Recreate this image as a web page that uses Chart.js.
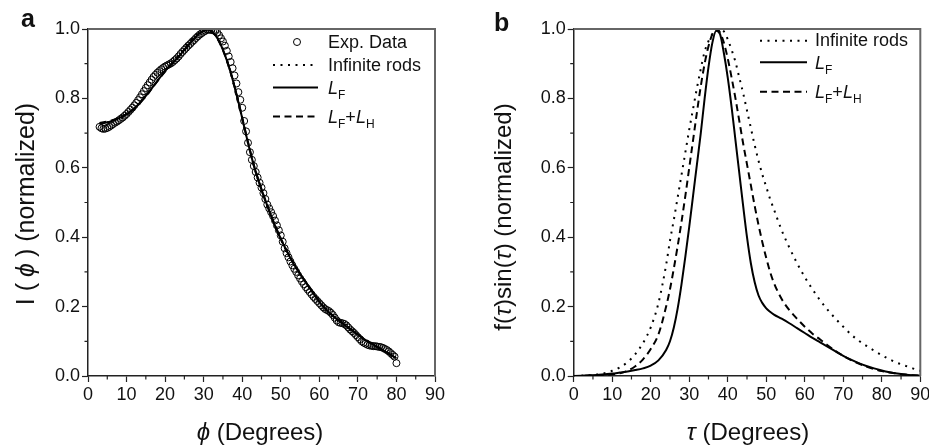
<!DOCTYPE html>
<html><head><meta charset="utf-8">
<script src="https://cdn.jsdelivr.net/npm/chart.js@4.4.0/dist/chart.umd.min.js"></script>
<style>
html,body{margin:0;padding:0;background:#fff;}
#wrap{position:relative;width:929px;height:445px;overflow:hidden;font-family:"Liberation Sans",Arial,sans-serif;color:#111;}
canvas{position:absolute;top:0;}
.t{position:absolute;white-space:nowrap;line-height:1;}
.lg{font-size:18px;}
.ax{font-size:24px;}
.sb{font-size:12px;position:relative;top:5px;font-style:normal;}
.pl{font-weight:bold;font-size:25px;}
</style></head>
<body><div id="wrap">
<canvas id="ca" width="460" height="445" style="left:0"></canvas>
<canvas id="cb" width="469" height="445" style="left:460px"></canvas>
<div class="t pl" style="left:21px;top:6px;">a</div>
<div class="t pl" style="left:494px;top:10px;">b</div>
<div class="t lg" style="left:328px;top:33px;">Exp. Data</div>
<div class="t lg" style="left:328px;top:56px;">Infinite rods</div>
<div class="t lg" style="left:328px;top:79px;"><i>L</i><span class="sb">F</span></div>
<div class="t lg" style="left:328px;top:108px;"><i>L</i><span class="sb">F</span>+<i>L</i><span class="sb">H</span></div>
<div class="t lg" style="left:815px;top:31px;">Infinite rods</div>
<div class="t lg" style="left:815px;top:54px;"><i>L</i><span class="sb">F</span></div>
<div class="t lg" style="left:815px;top:83px;"><i>L</i><span class="sb">F</span>+<i>L</i><span class="sb">H</span></div>
<div class="t ax" style="font-size:25px;left:25px;top:204px;transform:translate(-50%,-50%) rotate(-90deg);">I (<i style="margin:0 6px">ϕ</i>) (normalized)</div>
<div class="t ax" style="left:503px;top:217px;transform:translate(-50%,-50%) rotate(-90deg);">f(<i>τ</i>)sin(<i>τ</i>) (normalized)</div>
<div class="t ax" style="left:260px;top:432px;transform:translate(-50%,-50%);"><i>ϕ</i> (Degrees)</div>
<div class="t ax" style="left:748px;top:432px;transform:translate(-50%,-50%);"><i>τ</i> (Degrees)</div>
</div>
<script>
// ---- Panel a: experimental data ----
const phiExp = [3,3.5,4,4.5,5,5.5,6,6.5,7,7.5,8,8.5,9,9.5,10,10.5,11,11.5,12,12.5,13,13.5,14,14.5,15,15.5,16,16.5,17,17.5,18,18.5,19,19.5,20,20.5,21,21.5,22,22.5,23,23.5,24,24.5,25,25.5,26,26.5,27,27.5,28,28.5,29,29.5,30,30.5,31,31.5,32,32.5,33,33.5,34,34.5,35,35.5,36,36.5,37,37.5,38,38.5,39,39.5,40,40.5,41,41.5,42,42.5,43,43.5,44,44.5,45,45.5,46,46.5,47,47.5,48,48.5,49,49.5,50,50.5,51,51.5,52,52.5,53,53.5,54,54.5,55,55.5,56,56.5,57,57.5,58,58.5,59,59.5,60,60.5,61,61.5,62,62.5,63,63.5,64,64.5,65,65.5,66,66.5,67,67.5,68,68.5,69,69.5,70,70.5,71,71.5,72,72.5,73,73.5,74,74.5,75,75.5,76,76.5,77,77.5,78,78.5,79,79.5,80];
const iExp = [.718,.714,.712,.713,.715,.718,.722,.726,.73,.733,.737,.741,.745,.75,.755,.761,.767,.773,.78,.787,.795,.803,.812,.821,.83,.838,.846,.854,.862,.868,.874,.879,.884,.888,.892,.895,.898,.901,.905,.91,.915,.921,.928,.934,.94,.946,.952,.957,.963,.968,.974,.979,.984,.988,.992,.995,.998,.998,.997,.996,.994,.99,.982,.973,.964,.952,.937,.921,.905,.887,.866,.843,.818,.796,.773,.735,.705,.672,.645,.623,.605,.588,.572,.557,.543,.527,.51,.494,.483,.472,.461,.448,.434,.42,.405,.387,.368,.354,.342,.33,.319,.309,.3,.29,.281,.272,.264,.256,.249,.242,.235,.228,.222,.216,.21,.204,.198,.193,.19,.187,.182,.176,.168,.16,.155,.153,.152,.15,.146,.14,.134,.129,.124,.118,.112,.106,.1,.096,.093,.09,.088,.087,.086,.086,.085,.084,.083,.081,.078,.075,.071,.066,.061,.056,.037];
// ---- Panel a: model fits ----
const phiFit = [3,5,7,9,11,13,15,17,19,21,23,25,27,29,31,33,35,37,39,41,43,45,47,49,51,53,55,57,59,61,63,65,67,69,71,73,75,77,79,80];
const aInfRods = [.727,.731,.737,.746,.76,.78,.806,.836,.866,.894,.918,.946,.972,.992,1.0,.985,.942,.876,.79,.694,.606,.536,.475,.419,.371,.33,.294,.262,.23,.201,.179,.16,.143,.127,.111,.097,.083,.07,.057,.05];
const aLF = [.726,.731,.738,.748,.762,.782,.807,.836,.865,.892,.914,.94,.966,.988,.998,.983,.94,.875,.79,.695,.607,.537,.476,.42,.372,.33,.294,.262,.229,.2,.178,.16,.143,.127,.111,.097,.084,.071,.058,.051];
const aLFLH = [.729,.733,.739,.748,.762,.781,.806,.835,.864,.891,.913,.939,.965,.987,.997,.982,.939,.874,.791,.697,.609,.538,.477,.421,.373,.331,.295,.263,.23,.201,.179,.161,.144,.128,.112,.098,.084,.071,.058,.051];
// ---- Panel b ----
const tau = [0,2,4,6,8,10,12,14,16,18,20,22,24,25,26,27,28,29,30,31,32,33,34,35,36,37,38,39,40,41,42,43,44,45,46,47,48,49,50,51,52,54,56,58,60,62,64,66,68,70,72,74,76,78,80,82,84,86,88,90];
const bInfRods = [0,.001,.002,.004,.008,.015,.025,.04,.063,.095,.14,.21,.32,.39,.45,.515,.58,.645,.71,.77,.83,.885,.935,.965,.985,.996,1.0,.993,.97,.94,.905,.86,.815,.765,.715,.665,.62,.58,.545,.51,.48,.42,.37,.325,.285,.25,.218,.19,.165,.142,.12,.102,.087,.073,.06,.048,.038,.03,.022,.015];
const bLF = [0,.001,.002,.003,.005,.007,.01,.013,.017,.022,.03,.045,.075,.1,.14,.195,.265,.345,.43,.52,.61,.7,.8,.89,.96,.995,.985,.93,.86,.775,.68,.585,.49,.4,.325,.27,.232,.21,.195,.185,.177,.165,.152,.138,.124,.11,.097,.084,.071,.058,.047,.037,.029,.022,.016,.011,.007,.004,.002,.001];
const bLFLH = [0,0,.001,.002,.003,.005,.008,.015,.028,.048,.078,.12,.2,.25,.31,.375,.445,.52,.6,.68,.76,.835,.9,.95,.985,1.0,.99,.96,.915,.86,.8,.735,.67,.61,.55,.49,.435,.385,.34,.3,.268,.222,.19,.165,.142,.122,.105,.088,.072,.058,.046,.036,.027,.02,.014,.01,.007,.004,.002,.001];
// ---- ticks ----
const xMajor = [0,10,20,30,40,50,60,70,80,90];
const xMinor = [5,15,25,35,45,55,65,75,85];
const yMajor = [0,0.2,0.4,0.6,0.8,1.0];
const yMinor = [0.1,0.3,0.5,0.7,0.9];

const pts = (xs, ys) => xs.map((x, i) => ({x, y: ys[i]}));
const DOT = [2, 5.5], DASH = [7, 4.5];

function lineDs(label, xs, ys, dash) {
  return {label, data: pts(xs, ys), showLine: true, pointRadius: 0, borderColor: '#000',
    borderWidth: 2, borderDash: dash, cubicInterpolationMode: 'monotone', fill: false};
}

function decor(legend, offX) {
  return {id: 'decor', afterDraw(chart) {
    const {ctx, chartArea: a, scales: {x, y}} = chart;
    ctx.save();
    ctx.strokeStyle = '#666'; ctx.lineWidth = 2;
    ctx.beginPath(); ctx.moveTo(a.left, a.top); ctx.lineTo(a.right, a.top); ctx.lineTo(a.right, a.bottom); ctx.stroke();
    ctx.strokeStyle = '#222'; ctx.lineWidth = 1.2;
    ctx.beginPath();
    xMinor.forEach(v => { const p = x.getPixelForValue(v); ctx.moveTo(p, a.bottom); ctx.lineTo(p, a.bottom + 3.5); });
    yMinor.forEach(v => { const p = y.getPixelForValue(v); ctx.moveTo(a.left, p); ctx.lineTo(a.left - 3.5, p); });
    ctx.stroke();
    ctx.strokeStyle = '#000';
    legend.forEach(r => {
      if (r.circle) {
        ctx.lineWidth = 1; ctx.setLineDash([]);
        ctx.beginPath(); ctx.arc(r.x - offX, r.y, 3.5, 0, Math.PI * 2); ctx.stroke();
      } else {
        ctx.lineWidth = 2; ctx.setLineDash(r.dash);
        ctx.beginPath(); ctx.moveTo(r.x1 - offX, r.y); ctx.lineTo(r.x2 - offX, r.y); ctx.stroke();
      }
    });
    ctx.restore();
  }};
}

function scales(yWidth) {
  const tickFont = {family: '"Liberation Sans", Arial, sans-serif', size: 18};
  return {
    x: {type: 'linear', min: 0, max: 90,
      afterBuildTicks: s => { s.ticks = xMajor.map(v => ({value: v})); },
      ticks: {font: tickFont, color: '#111', padding: 2, maxRotation: 0, autoSkip: false},
      grid: {drawOnChartArea: false, tickLength: 6, color: '#222', tickWidth: 1.2},
      border: {color: '#222', width: 1.5},
      afterFit: s => { s.height = 69; s.paddingLeft = 0; s.paddingRight = 0; }},
    y: {type: 'linear', min: 0, max: 1,
      afterBuildTicks: s => { s.ticks = yMajor.map(v => ({value: v})); },
      ticks: {font: tickFont, color: '#111', padding: 2, callback: v => Number(v).toFixed(1)},
      grid: {drawOnChartArea: false, tickLength: 6, color: '#222', tickWidth: 1.2},
      border: {color: '#222', width: 1.5},
      afterFit: s => { s.width = yWidth; s.paddingTop = 0; s.paddingBottom = 0; }}
  };
}

const common = {responsive: false, animation: false, events: [],
  plugins: {legend: {display: false}, tooltip: {enabled: false}}};

new Chart(document.getElementById('ca'), {
  type: 'scatter',
  data: {datasets: [
    lineDs('L_F+L_H', phiFit, aLFLH, DASH),
    lineDs('L_F', phiFit, aLF, []),
    lineDs('Infinite rods', phiFit, aInfRods, DOT),
    {label: 'Exp. Data', data: pts(phiExp, iExp), showLine: false, pointRadius: 3.5, pointBorderWidth: 1,
      pointBorderColor: '#000', pointBackgroundColor: 'rgba(0,0,0,0)'}
  ]},
  options: Object.assign({}, common, {layout: {padding: {left: 0, right: 25, top: 29, bottom: 0}}, scales: scales(88)}),
  plugins: [decor([
    {circle: true, x: 297, y: 42},
    {dash: DOT, x1: 273, x2: 316, y: 65},
    {dash: [], x1: 273, x2: 318, y: 87.5},
    {dash: DASH, x1: 273, x2: 318, y: 116.5}], 0)]
});

new Chart(document.getElementById('cb'), {
  type: 'scatter',
  data: {datasets: [
    lineDs('Infinite rods', tau, bInfRods, DOT),
    lineDs('L_F', tau, bLF, []),
    lineDs('L_F+L_H', tau, bLFLH, DASH)
  ]},
  options: Object.assign({}, common, {layout: {padding: {left: 0, right: 8.7, top: 29, bottom: 0}}, scales: scales(113.7)}),
  plugins: [decor([
    {dash: DOT, x1: 760, x2: 807, y: 40.7},
    {dash: [], x1: 760, x2: 807, y: 62.3},
    {dash: DASH, x1: 760, x2: 807, y: 91.7}], 460)]
});
</script>
</body></html>
